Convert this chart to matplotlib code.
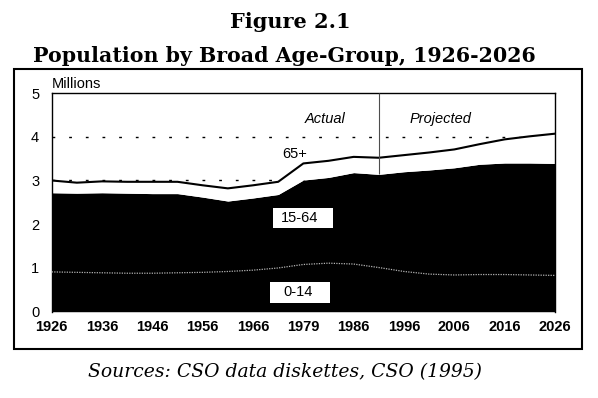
import numpy as np
import matplotlib.pyplot as plt
from matplotlib.patches import Rectangle

# census / projection years (equally spaced categories on the chart)
years = [1926, 1931, 1936, 1941, 1946, 1951, 1956, 1961, 1966, 1971, 1979,
         1981, 1986, 1991, 1996, 2001, 2006, 2011, 2016, 2021, 2026]
# millions
age_0_14 = [0.91, 0.90, 0.89, 0.88, 0.88, 0.89, 0.90, 0.92, 0.95, 1.00, 1.08,
            1.11, 1.09, 1.01, 0.92, 0.86, 0.84, 0.85, 0.85, 0.84, 0.83]
age_0_64 = [2.72, 2.71, 2.72, 2.71, 2.70, 2.70, 2.62, 2.53, 2.60, 2.68, 3.01,
            3.07, 3.18, 3.14, 3.20, 3.24, 3.29, 3.37, 3.40, 3.40, 3.39]
total = [3.00, 2.95, 2.98, 2.97, 2.97, 2.97, 2.89, 2.82, 2.89, 2.97, 3.39,
         3.45, 3.54, 3.52, 3.58, 3.64, 3.71, 3.83, 3.94, 4.01, 4.07]
tick_years = years[::2]
split_year = 1991

x = np.arange(len(years))
split = years.index(split_year)

fig = plt.figure(figsize=(5.98, 3.98), dpi=100)
ax = fig.add_axes([0.0865, 0.2168, 0.8415, 0.5495])

for g in range(1, 5):
    ax.axhline(g, color='black', lw=1, ls=(0, (2, 10)), zorder=1)

ax.fill_between(x, 0, age_0_64, color='black', lw=0, zorder=2)
ax.fill_between(x, age_0_64, total, color='white', lw=0, zorder=2)
ax.plot(x, total, color='black', lw=1.5, zorder=3)
ax.plot(x, age_0_14, color='0.7', lw=0.9, ls=(0, (1, 1)), zorder=3)
ax.vlines(split, age_0_64[split], 5, color='0.3', lw=0.8, zorder=3)

ax.set_xlim(0, len(years) - 1)
ax.set_ylim(0, 5)
ax.set_xticks(x[::2])
ax.set_xticklabels(tick_years, fontsize=10.5, fontweight='bold', family='Liberation Sans')
ax.set_yticks(range(6))
ax.set_yticklabels(range(6), fontsize=10.5, family='Liberation Sans')
ax.tick_params(axis='x', length=0, pad=6)
ax.tick_params(axis='y', length=0, pad=9)
for s in ax.spines.values():
    s.set_linewidth(1)
ax.spines['bottom'].set_visible(False)

# white label boxes
ax.add_patch(Rectangle((8.79, 1.91), 2.39, 0.46, fc='white', ec='none', zorder=4))
ax.add_patch(Rectangle((8.67, 0.20), 2.39, 0.48, fc='white', ec='none', zorder=4))

lab = dict(family='Liberation Sans', fontsize=10.5, ha='center', va='center', zorder=5)
ax.text(0, 5.2, 'Millions', ha='left', va='center', family='Liberation Sans', fontsize=10.5)
ax.text(9.65, 3.6, '65+', **lab)
ax.text(9.85, 2.14, '15-64', **lab)
ax.text(9.8, 0.44, '0-14', **lab)
ax.text(10.86, 4.4, 'Actual', style='italic', **lab)
ax.text(15.46, 4.4, 'Projected', style='italic', **lab)

fig.text(0.485, 0.945, 'Figure 2.1', ha='center', va='center',
         family='DejaVu Serif', fontweight='bold', fontsize=15)
fig.text(0.475, 0.86, 'Population by Broad Age-Group, 1926-2026', ha='center', va='center',
         family='DejaVu Serif', fontweight='bold', fontsize=14.8)
fig.text(0.477, 0.064, 'Sources: CSO data diskettes, CSO (1995)', ha='center', va='center',
         family='DejaVu Serif', style='italic', fontsize=13.5)

fig.patches.append(Rectangle((0.0234, 0.1231), 0.9493, 0.7035, transform=fig.transFigure,
                             fill=False, ec='black', lw=1.5))

fig.savefig('out.png', dpi=100)
